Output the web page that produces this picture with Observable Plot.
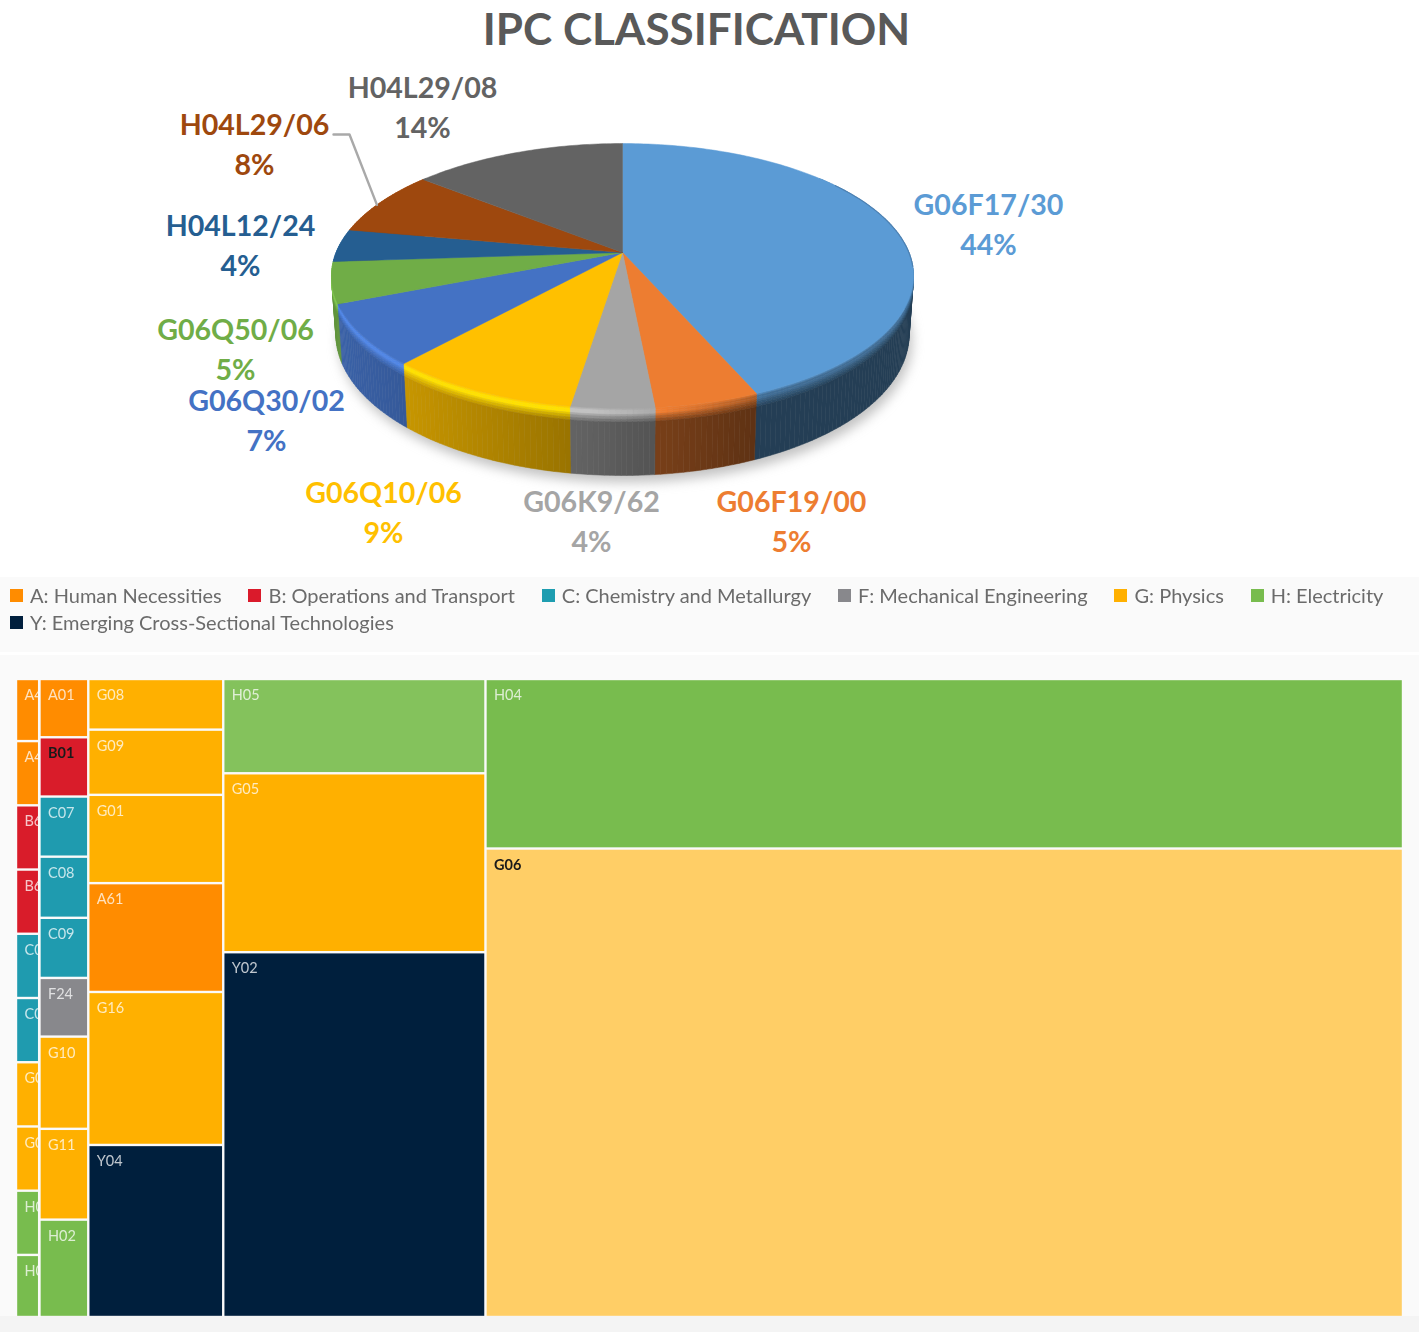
<!DOCTYPE html>
<html>
<head>
<meta charset="utf-8">
<script src="https://cdn.jsdelivr.net/npm/d3@7"></script>
<script src="https://cdn.jsdelivr.net/npm/@observablehq/plot@0.6"></script>
<style>
html,body{margin:0;padding:0;background:#fff;width:1419px;height:1332px;overflow:hidden}
#title{height:55px;text-align:center;padding-right:26px;font:700 44px/56px Lato,sans-serif;color:#595959;box-sizing:content-box}
#legend{height:75px;margin-top:2px;margin-bottom:3px;background:#fafafa;box-sizing:border-box;padding:5px 0 0 10px;display:flex;flex-wrap:wrap;column-gap:26.8px;align-content:flex-start;font:20px/27px Lato,sans-serif;color:#6b6b6b;filter:blur(.4px)}
#legend span.i{display:inline-flex;align-items:center;white-space:nowrap}
#legend i{display:inline-block;width:13px;height:13px;margin-right:7px}
svg{display:block}
</style>
</head>
<body>
<div id="title"></div>
<div id="pie"></div>
<div id="legend"></div>
<div id="tree"></div>
<script>
// ---- data ----
const chartTitle = "IPC CLASSIFICATION";
const sliceNames = ["G06F17/30","G06F19/00","G06K9/62","G06Q10/06","G06Q30/02","G06Q50/06","H04L12/24","H04L29/06","H04L29/08"];
const slicePercents = [44,5,4,9,7,5,4,8,14];
const sliceValues = [43.6,4.9,3.9,9.1,7.4,5,4,8,14.1];
const sliceColors = ["#5B9BD5","#ED7D31","#A5A5A5","#FFC000","#4472C4","#70AD47","#255E91","#9E480E","#636363"];
const labelX = [988,791,591,383,266,235,240,254,422];
const labelY = [222,519,519,510,418,347,243,142,105];

const legendNames = ["A: Human Necessities","B: Operations and Transport","C: Chemistry and Metallurgy","F: Mechanical Engineering","G: Physics","H: Electricity","Y: Emerging Cross-Sectional Technologies"];
const legendColors = ["#FF8C00","#DA1A2B","#1E9DB0","#88888C","#FFB000","#78BC4E","#001F3D"];

const treeColumns = [
  ["A4","A4","B6","B6","C0","C0","G0","G0","H0","H0"],
  ["A01","B01","C07","C08","C09","F24","G10","G11","H02"],
  ["G08","G09","G01","A61","G16","Y04"],
  ["H05","G05","Y02"],
  ["H04","G06"]
];
const treeValues = [
  [14.5,15,15,15,15,15,15,15,15,14.5],
  [28.3,28.8,29.2,29.7,29.2,28.5,44.8,44.1,47.3],
  [68,87.6,118.6,146.2,205.5,231.1],
  [246,467,952],
  [1548,4278]
];
const categoryColor = {A:"#FF8C00",B:"#D91C2A",C:"#1F9BAF",F:"#88888C",G:"#FFB000",H:"#78BC4E",Y:"#001F3D"};
const shadeOverride = {H05:"#84C25C",G06:"#FFCE66"};
const darkLabels = ["B01","G06"];

// ---- page furniture ----
document.getElementById("title").textContent = chartTitle;
document.getElementById("legend").innerHTML = legendNames.map((n,i)=>`<span class="i"><i style="background:${legendColors[i]}"></i>${n}</span>`).join("");

// ---- pie geometry (a circle seen in perspective), derived from sliceValues ----
const cx = 622, cy = 252, persp = -0.1774, py = 83.6, rad = 286.4;
function rim(deg){
  const a = deg*Math.PI/180, u = Math.sin(a), v = -Math.cos(a), w = 1+persp*v;
  return {x:cx+rad*u/w, y:(cy+py*v)/w, v};
}
function wallPoint(deg,t){
  const r = rim(deg);
  return {x:cx+(r.x-cx)*(1-.015*t), y:r.y+t*(56+11*Math.max(0,r.v))};
}
const total = d3.sum(sliceValues);
const sliceStart = d3.cumsum([0,...sliceValues]).map(c=>c/total*360);
const polys = [];
let pid = 0;
function poly(points,fill){ const id=pid++; points.forEach(p=>polys.push({id,x:p.x,y:p.y,fill})); }

// side wall, with bevel rings
const ringT = [0,.03,.06,.09,.12,.16,.2,1];
const clamp = (a,b,c)=>Math.max(b,Math.min(c,a));
const wallPolys = [];
sliceValues.forEach((_,i)=>{
  const base = d3.rgb(sliceColors[i]);
  const a0 = sliceStart[i], a1 = sliceStart[i+1];
  const n = Math.max(1,Math.ceil((a1-a0)/1));
  for(let k=0;k<n;k++){
    const s0=a0+(a1-a0)*k/n, s1=a0+(a1-a0)*(k+1)/n, m=(s0+s1)/2;
    if(m<50||m>310) continue;
    const u=(rim(m).x-cx)/291;
    const f=Math.max(.40,.40+(.457-u)*.315);
    const wall=d3.rgb(base.r*f,base.g*f,base.b*f);
    const kk=clamp((.5-u)/.6,0,1);
    const hl=d3.interpolateRgb(d3.interpolateRgb(base,wall)(.5),base.brighter(.45))(kk);
    const mix=d3.interpolateRgb(hl,wall);
    const ringCols=[d3.interpolateRgb(base,hl)(.5),hl,hl,mix(.25),mix(.5),mix(.75),wall.formatHex()];
    for(let j=0;j<ringCols.length;j++){
      const p=[wallPoint(s0,ringT[j]),wallPoint(s1,ringT[j]),wallPoint(s1,ringT[j+1]),wallPoint(s0,ringT[j+1])];
      p.push(p[0]);
      wallPolys.push({y:rim(m).y,j,p,fill:ringCols[j]});
    }
  }
});
wallPolys.sort((a,b)=>a.y-b.y||a.j-b.j).forEach(w=>poly(w.p,w.fill));
// top face
sliceValues.forEach((_,i)=>{
  const a0=sliceStart[i],a1=sliceStart[i+1];
  const pts=[{x:cx,y:cy}];
  for(let a=a0;;a=Math.min(a+1,a1)){pts.push(rim(a)); if(a>=a1)break;}
  pts.push({x:cx,y:cy});
  poly(pts,sliceColors[i]);
});
// soft ground shadow
const shadow=d3.range(0,361,3).map(a=>{const p=wallPoint(a,1);return {x:p.x+3,y:p.y+7};});
// back-right soft rim
const darkRim=d3.range(55,97,1).map(a=>rim(a));
// leader line of the H04L29/06 label, ending on its slice
const leaderEnd=rim(sliceStart[7]+sliceValues[7]/total*360*.45);
const leader=[{x:333,y:134},{x:349,y:134},leaderEnd];

document.getElementById("pie").append(Plot.plot({
  width:1419,height:520,margin:0,
  style:{background:"transparent",overflow:"visible"},
  x:{domain:[0,1419],range:[0,1419],axis:null},
  y:{domain:[55,575],range:[0,520],axis:null},
  marks:[
    Plot.line(shadow,{x:"x",y:"y",fill:"#8f8f8f",stroke:"none",fillOpacity:.55,imageFilter:"blur(6px)"}),
    Plot.line(polys,{x:"x",y:"y",z:"id",fill:"fill",stroke:"fill",strokeWidth:.5,curve:"linear"}),
    Plot.line(darkRim,{x:"x",y:"y",stroke:"#4a7cab",strokeWidth:1.2,strokeOpacity:.8,imageFilter:"blur(.6px)"}),
    Plot.line(leader,{x:"x",y:"y",stroke:"#a9a9a9",strokeWidth:2.4}),
    Plot.text(sliceNames,{
      x:(d,i)=>labelX[i],y:(d,i)=>labelY[i],
      text:(d,i)=>d+"\n"+slicePercents[i]+"%",
      fill:(d,i)=>sliceColors[i],
      fontFamily:"Lato, sans-serif",fontWeight:700,fontSize:28.6,lineHeight:1.4,lineAnchor:"middle",textAnchor:"middle"
    })
  ]
}));

// ---- treemap: column widths and cell heights from treeValues ----
const treeTotal=d3.sum(treeValues.flat());
const cells=[];
let xAcc=0;
const colEnds=[];
treeColumns.forEach((names,c)=>{
  const colSum=d3.sum(treeValues[c]);
  const x1=xAcc/treeTotal, x2=(xAcc+colSum)/treeTotal;
  let yAcc=0;
  names.forEach((name,r)=>{
    const y1=yAcc/colSum; yAcc+=treeValues[c][r];
    cells.push({name,col:c,x1,x2,y1,y2:yAcc/colSum,
      fill:shadeOverride[name]||categoryColor[name[0]],
      dark:darkLabels.includes(name)});
  });
  xAcc+=colSum; colEnds.push(x2);
});
const first=cells.filter(d=>d.col===0), rest=cells.filter(d=>d.col>0);
const rectOpts={x1:"x1",x2:"x2",y1:"y1",y2:"y2",fill:"fill",inset:1.2};
const baseText={x:"x1",y:"y1",text:"name",dx:8,dy:16,textAnchor:"start",fontFamily:"Lato, sans-serif",fontSize:14.5};
const lightText={...baseText,filter:d=>!d.dark,fill:"#ffffff",fillOpacity:.75,imageFilter:"blur(.45px)"};
const darkText={...baseText,filter:d=>d.dark,fill:"#1a1a1a",fontWeight:700,imageFilter:"blur(.45px)"};
document.getElementById("tree").append(Plot.plot({
  width:1419,height:677,margin:0,
  style:{background:"linear-gradient(#fafafa 0 661px,#f4f4f4 661px)"},
  x:{domain:[0,1],range:[16,1403],axis:null},
  y:{domain:[0,1],range:[24,662],axis:null},
  marks:[
    Plot.rect(first,rectOpts),
    Plot.text(first,lightText),
    Plot.rect([colEnds[0]],{x1:d=>d,x2:d=>d,y1:0,y2:1,insetLeft:-1.5,insetRight:-1.5,fill:"#fafafa"}),
    Plot.rect(rest,rectOpts),
    Plot.text(rest,lightText),
    Plot.text(rest,darkText)
  ]
}));
</script>
</body>
</html>
